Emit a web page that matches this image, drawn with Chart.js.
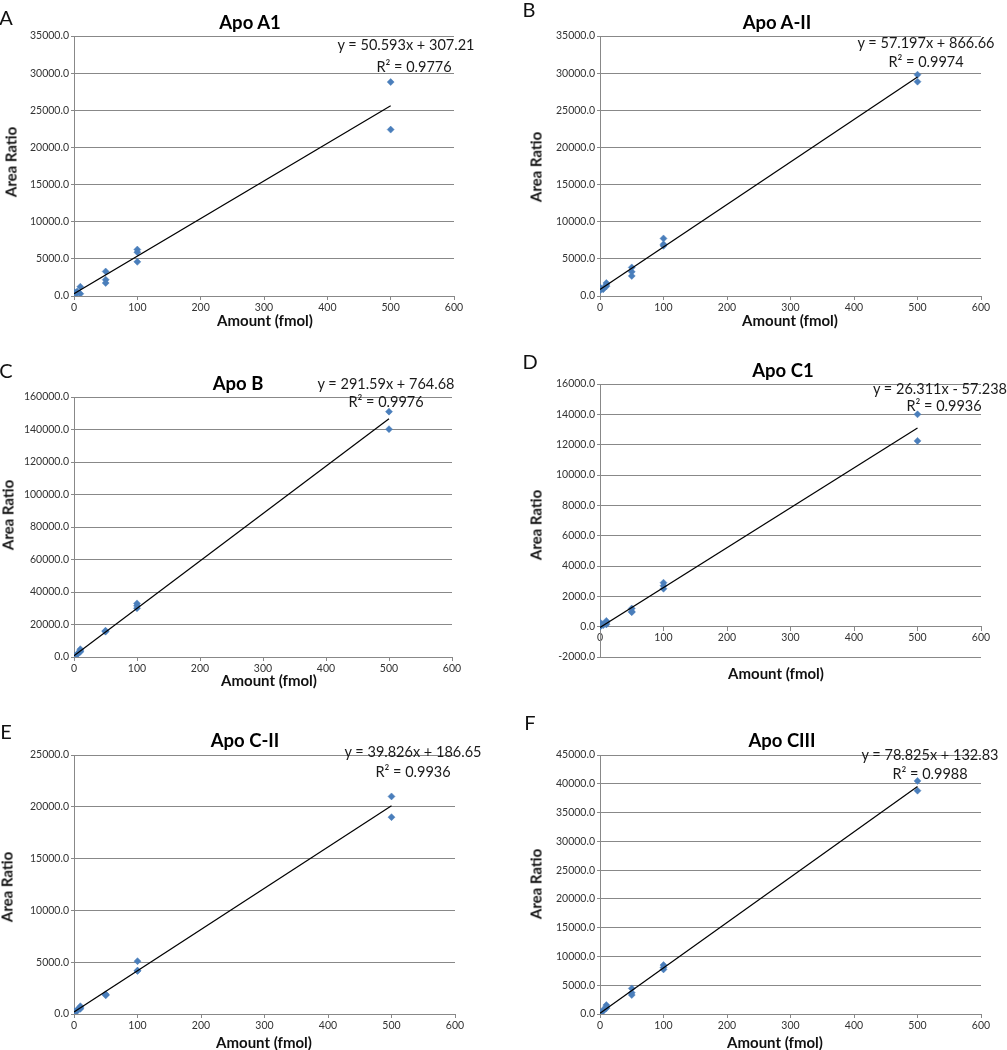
<!DOCTYPE html>
<html>
<head>
<meta charset="utf-8">
<script src="https://cdn.jsdelivr.net/npm/chart.js@4.4.1/dist/chart.umd.min.js"></script>
<style>
  html,body{margin:0;padding:0;background:#fff;}
  body{width:1007px;height:1050px;position:relative;overflow:hidden;font-family:Lato,"Open Sans",sans-serif;}
  .t{position:absolute;white-space:nowrap;line-height:1;transform:translate(-50%,-50%);color:#111;}
  .title{font-weight:bold;font-size:18.5px;color:#000;}
  .letter{font-size:20px;color:#111;}
  .eq{font-size:14.5px;color:#1a1a1a;}
  .ax{font-weight:bold;font-size:15px;color:#111;}
  .ay{font-weight:bold;font-size:15px;color:#111;transform:translate(-50%,-50%) rotate(-90deg);}
  canvas{position:absolute;}
</style>
</head>
<body>
<script>
// ---------- DATA ----------
const panelLetters = ["A","B","C","D","E","F"];
const panelTitles = ["Apo A1","Apo A-II","Apo B","Apo C1","Apo C-II","Apo CIII"];
const equations = ["y = 50.593x + 307.21","y = 57.197x + 866.66","y = 291.59x + 764.68","y = 26.311x - 57.238","y = 39.826x + 186.65","y = 78.825x + 132.83"];
const rSquared = ["R² = 0.9776","R² = 0.9974","R² = 0.9976","R² = 0.9936","R² = 0.9936","R² = 0.9988"];
const xAxisTitle = "Amount (fmol)";
const yAxisTitle = "Area Ratio";

const amountsA = [1,1,1,5,5,10,10,50,50,50,100,100,100,500,500];
const areaA    = [500,300,200,600,400,1250,300,3300,2200,1750,6250,5900,4600,28800,22400];

const amountsB = [0,1,1,5,5,10,10,10,50,50,50,100,100,100,500,500];
const areaB    = [1000,1100,800,900,1000,1500,1750,1300,3850,3250,2700,7750,6950,6750,29800,28850];

const amountsC = [0,1,1,5,5,10,10,10,50,50,50,100,100,100,500,500];
const areaC    = [200,500,300,1800,1500,4800,3800,3200,16200,15600,15900,33000,30000,31500,151000,140200];

const amountsD = [0,1,1,5,5,10,10,10,50,50,50,100,100,100,500,500];
const areaD    = [0,250,50,150,100,380,250,150,1200,1000,950,2900,2700,2500,14000,12250];

const amountsE = [0,1,1,5,5,10,10,10,50,50,50,100,100,100,500,500];
const areaE    = [100,250,150,400,300,750,600,500,1900,1850,1800,5100,4200,4150,21000,19000];

const amountsF = [0,1,1,5,5,10,10,10,50,50,50,100,100,100,500,500];
const areaF    = [100,300,200,700,500,1550,1250,1000,4450,3700,3300,8500,8100,7750,40500,38800];

// trendline end points (x = 0 and x = 500), as shown
const trendX = [0, 500];
const trendStartY = [307, 867, 765, -57, 187, 133];
const trendEndY   = [25604, 29465, 146560, 13098, 20100, 39545];

// axis ranges / tick labels
const xTicks = [0,100,200,300,400,500,600];
const yMin  = [0, 0, 0, -2000, 0, 0];
const yMax  = [35000, 35000, 160000, 16000, 25000, 45000];
const yStep = [5000, 5000, 20000, 2000, 5000, 5000];

const amounts = [amountsA, amountsB, amountsC, amountsD, amountsE, amountsF];
const areas   = [areaA, areaB, areaC, areaD, areaE, areaF];

// ---------- LAYOUT ----------
const plotRects = [
  {l:74, r:454, t:36,  b:296},
  {l:600,r:981, t:36,  b:296},
  {l:74, r:452, t:397, b:657},
  {l:600,r:981, t:384, b:657},
  {l:74, r:455, t:755, b:1014},
  {l:600,r:981, t:755, b:1014}
];
const titlePos  = [[250,22],[777,22],[238,383],[783,370],[245,740],[782,740]];
const letterPos = [[6,17],[529,9],[6,370],[530,361],[6,731],[530,722]];
const eqPos     = [[406,45],[926,43],[386,384],[940,389],[413,752],[930,755]];
const r2Pos     = [[414,67],[926,62],[386,402],[944,406],[413,772],[930,774]];
const yTitlePos = [[11,162],[536,167],[8,515],[536,525],[7,887],[536,884]];
const xTitlePos = [[265,320],[790,320],[269,680],[776,673],[264,1042],[775,1042]];

function addText(cls, txt, pos){
  const d = document.createElement('div');
  d.className = 't ' + cls;
  d.textContent = txt;
  d.style.left = pos[0] + 'px';
  d.style.top = pos[1] + 'px';
  document.body.appendChild(d);
}

const PADL = 80, PADT = 10, PADR = 40, PADB = 30;
const gridColor = '#888888';
const tickFont = {family:'Lato', size:10.5};
const tickColor = '#333333';

for (let i = 0; i < 6; i++) {
  const r = plotRects[i];
  const W = (r.r - r.l) + PADL + PADR;
  const H = (r.b - r.t) + PADT + PADB;
  const cv = document.createElement('canvas');
  cv.width = W; cv.height = H;
  cv.style.width = W + 'px'; cv.style.height = H + 'px';
  cv.style.left = (r.l - PADL) + 'px';
  cv.style.top = (r.t - PADT) + 'px';
  document.body.appendChild(cv);

  const pts = amounts[i].map((x, k) => ({x: x, y: areas[i][k]}));
  const crossesZero = yMin[i] < 0;

  new Chart(cv.getContext('2d'), {
    data: {
      datasets: [
        {
          type: 'line',
          data: trendX.map((x, k) => ({x: x, y: k === 0 ? trendStartY[i] : trendEndY[i]})),
          borderColor: '#000',
          borderWidth: 1.2,
          pointRadius: 0,
          fill: false,
          tension: 0
        },
        {
          type: 'scatter',
          data: pts,
          pointStyle: 'rectRot',
          pointRadius: 3.5,
          backgroundColor: '#4a7ebb',
          borderColor: '#4a7ebb',
          borderWidth: 0.5
        }
      ]
    },
    options: {
      responsive: false,
      animation: false,
      events: [],
      layout: {padding: {left: 0, top: PADT, right: PADR, bottom: crossesZero ? PADB : 0}},
      plugins: {legend: {display: false}, tooltip: {enabled: false}, title: {display: false}},
      scales: {
        x: {
          type: 'linear',
          position: crossesZero ? {y: 0} : 'bottom',
          min: 0, max: 600,
          afterBuildTicks: s => { s.ticks = xTicks.map(v => ({value: v})); },
          afterFit: s => { s.height = PADB; },
          grid: {drawOnChartArea: false, drawTicks: true, tickLength: 4, color: gridColor, lineWidth: 1},
          border: {display: true, color: gridColor, width: 1},
          ticks: {font: tickFont, color: tickColor, padding: 1, maxRotation: 0, autoSkip: false, callback: v => String(v)}
        },
        y: {
          type: 'linear',
          position: 'left',
          min: yMin[i], max: yMax[i],
          ticks: {stepSize: yStep[i], font: tickFont, color: tickColor, padding: 2, callback: v => Number(v).toFixed(1)},
          afterFit: s => { s.width = PADL; },
          grid: {color: gridColor, lineWidth: 1, drawTicks: true, tickLength: 3},
          border: {display: true, color: gridColor, width: 1}
        }
      }
    }
  });

  addText('title', panelTitles[i], titlePos[i]);
  addText('letter', panelLetters[i], letterPos[i]);
  addText('eq', equations[i], eqPos[i]);
  addText('eq', rSquared[i], r2Pos[i]);
  addText('ay', yAxisTitle, yTitlePos[i]);
  addText('ax', xAxisTitle, xTitlePos[i]);
}
</script>
</body>
</html>
